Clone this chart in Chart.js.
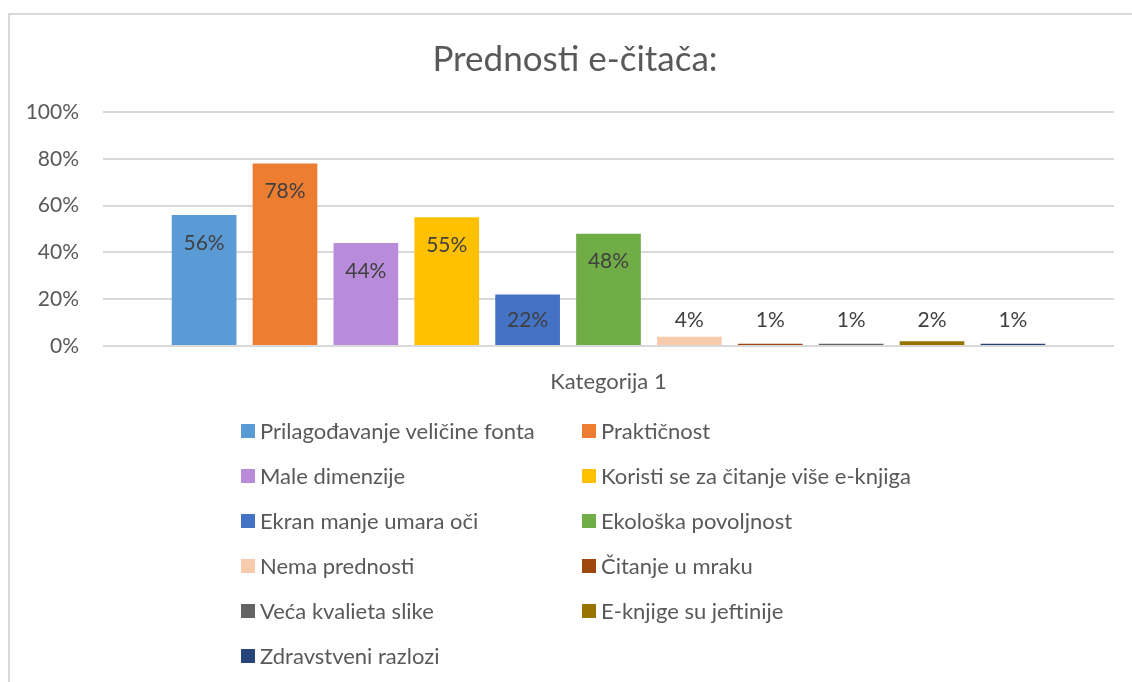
<!DOCTYPE html>
<html>
<head>
<meta charset="utf-8">
<script src="https://cdn.jsdelivr.net/npm/chart.js@4.4.0/dist/chart.umd.min.js"></script>
<style>
  html, body { margin: 0; padding: 0; background: #fff; overflow: hidden; }
  body { width: 1132px; height: 682px; position: relative; font-family: Lato, "Open Sans", sans-serif; }
  #frame { position: absolute; left: 8px; top: 13px; width: 1200px; height: 720px; border-left: 2px solid #d9d9d9; border-top: 2px solid #d9d9d9; }
  #wrap { position: absolute; left: 9px; top: 14px; width: 1132px; height: 668px; }
  #legend { position: absolute; left: 241px; top: 408px; display: grid; grid-template-columns: 341px 320px; }
  .item { display: flex; align-items: center; height: 45px; font-size: 22px; color: #595959; white-space: nowrap; }
  .box { width: 14px; height: 14px; margin-right: 5px; flex: none; }
</style>
</head>
<body>
<div id="frame"></div>
<div id="wrap"><canvas id="chart" width="1132" height="668"></canvas></div>
<div id="legend"></div>
<script>
// single category, one series per answer
const categories = ["Kategorija 1"];
const seriesNames = [
  "Prilagođavanje veličine fonta",
  "Praktičnost",
  "Male dimenzije",
  "Koristi se za čitanje više e-knjiga",
  "Ekran manje umara oči",
  "Ekološka povoljnost",
  "Nema prednosti",
  "Čitanje u mraku",
  "Veća kvalieta slike",
  "E-knjige su jeftinije",
  "Zdravstveni razlozi"
];
const seriesValues = [56, 78, 44, 55, 22, 48, 4, 1, 1, 2, 1];
const seriesColors = [
  "#5B9BD5", "#ED7D31", "#B88CDB", "#FFC000", "#4472C4", "#70AD47",
  "#F8CBAD", "#9E480E", "#636363", "#997300", "#264478"
];
const yTicks = [0, 20, 40, 60, 80, 100];

const TITLE = "Prednosti e-čitača:";
const TEXT = "#595959";
const FONT = "Lato, 'Open Sans', sans-serif";

// Excel-ish data labels: inside the top of the bar, pushed up off the axis for short bars
const barLabels = {
  id: "barLabels",
  afterDatasetsDraw(chart) {
    const ctx = chart.ctx;
    ctx.save();
    ctx.font = "21px " + FONT;
    ctx.fillStyle = "#404040";
    ctx.textAlign = "center";
    ctx.textBaseline = "middle";
    chart.data.datasets.forEach((ds, i) => {
      const bar = chart.getDatasetMeta(i).data[0];
      const y = Math.min(bar.y + 28, bar.base - 25);
      ctx.fillText(ds.data[0] + "%", bar.x, y);
    });
    ctx.restore();
  }
};

// title centred on the whole frame, not on the padded layout box
const frameTitle = {
  id: "frameTitle",
  afterDraw(chart) {
    const ctx = chart.ctx;
    ctx.save();
    ctx.font = "35px " + FONT;
    ctx.fillStyle = TEXT;
    ctx.textAlign = "center";
    ctx.textBaseline = "middle";
    ctx.fillText(TITLE, chart.width / 2, 46);
    ctx.restore();
  }
};

const chart = new Chart(document.getElementById("chart"), {
  type: "bar",
  data: {
    labels: categories,
    datasets: seriesNames.map((name, i) => ({
      label: name,
      data: [seriesValues[i]],
      backgroundColor: seriesColors[i],
      borderWidth: 0
    }))
  },
  options: {
    responsive: false,
    maintainAspectRatio: false,
    animation: false,
    devicePixelRatio: 1,
    categoryPercentage: 0.88,
    barPercentage: 0.8,
    layout: { padding: { left: 0, right: 27, top: 98, bottom: 0 } },
    plugins: {
      legend: { display: false },
      tooltip: { enabled: false },
      title: { display: false }
    },
    scales: {
      x: {
        grid: { display: false },
        border: { display: false },
        ticks: { color: TEXT, font: { family: FONT, size: 22 }, padding: 15 },
        afterFit: (s) => { s.height = 336; }
      },
      y: {
        min: 0,
        max: 100,
        afterBuildTicks: (s) => { s.ticks = yTicks.map((v) => ({ value: v })); },
        afterFit: (s) => { s.width = 94; },
        grid: { color: "#d9d9d9", lineWidth: 2, drawTicks: false },
        border: { display: false },
        ticks: {
          color: TEXT,
          font: { family: FONT, size: 21 },
          padding: 24,
          autoSkip: false,
          callback: (v) => v + "%"
        }
      }
    }
  },
  plugins: [barLabels, frameTitle]
});

// two-column legend like the Excel original
const legendEl = document.getElementById("legend");
chart.data.datasets.forEach((ds) => {
  const item = document.createElement("div");
  item.className = "item";
  const box = document.createElement("span");
  box.className = "box";
  box.style.background = ds.backgroundColor;
  const txt = document.createElement("span");
  txt.textContent = ds.label;
  item.appendChild(box);
  item.appendChild(txt);
  legendEl.appendChild(item);
});
</script>
</body>
</html>
